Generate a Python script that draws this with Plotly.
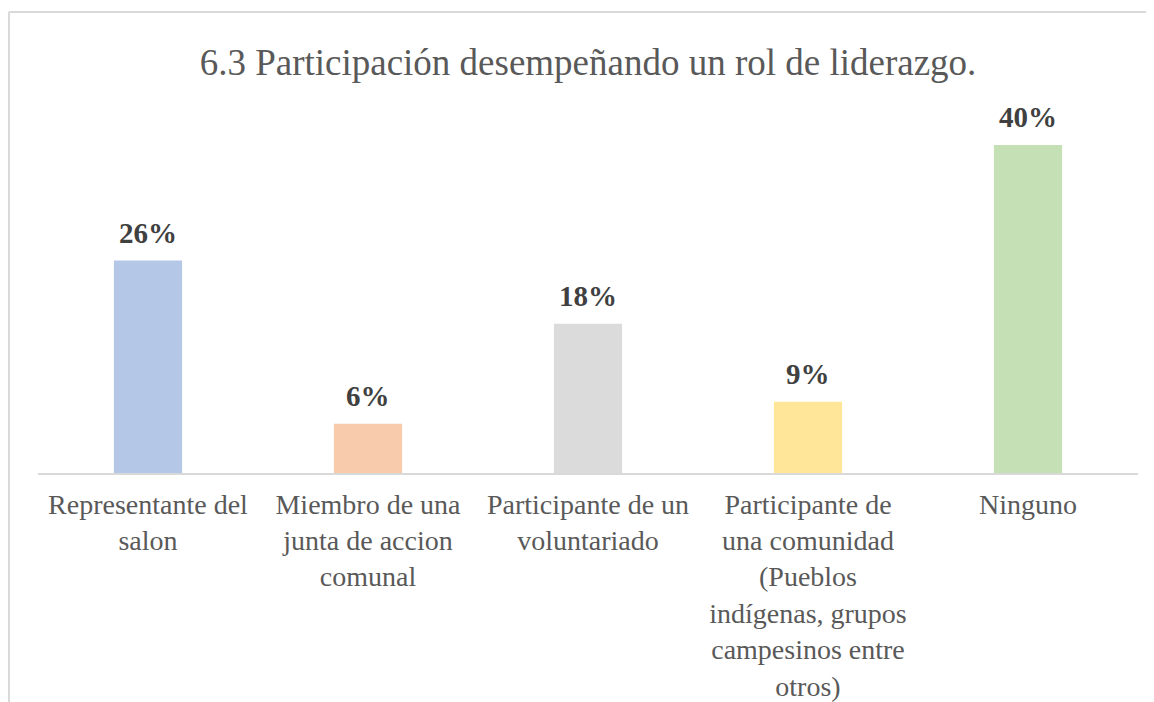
import plotly.graph_objects as go

categories = [
    "Representante del<br>salon",
    "Miembro de una<br>junta de accion<br>comunal",
    "Participante de un<br>voluntariado",
    "Participante de<br>una comunidad<br>(Pueblos<br>indígenas, grupos<br>campesinos entre<br>otros)",
    "Ninguno",
]
values = [25.9, 6.0, 18.2, 8.7, 40.0]
colors = ["#B4C7E7", "#F8CBAD", "#DBDBDB", "#FFE699", "#C5E0B4"]

FONT = "Liberation Serif"

fig = go.Figure()
fig.add_trace(go.Bar(x=categories, y=values, marker_color=colors, marker_line_width=0, width=0.31))

for cat, val in zip(categories, values):
    fig.add_annotation(
        x=cat, y=val, text=f"<b>{val:.0f}%</b>", showarrow=False,
        yanchor="bottom", yshift=10,
        font=dict(family=FONT, size=29, color="#404040"),
    )

# light grey chart frame (cropped on right and bottom)
fig.add_shape(type="line", xref="paper", yref="paper", x0=-0.0264, x1=-0.0264, y0=-1, y1=1.2493,
              line=dict(color="#D9D9D9", width=2))
fig.add_shape(type="line", xref="paper", yref="paper", x0=-0.0264, x1=1.1, y0=1.2493, y1=1.2493,
              line=dict(color="#D9D9D9", width=2))

fig.update_layout(
    width=1146, height=694,
    margin=dict(l=30, r=16, t=96, b=229),
    paper_bgcolor="white", plot_bgcolor="white",
    showlegend=False,
    title=dict(text="6.3 Participación desempeñando un rol de liderazgo.",
               x=0.5, xref="paper", xanchor="center", y=0.9222, yanchor="middle",
               font=dict(family=FONT, size=37, color="#595959")),
    font=dict(family=FONT, color="#595959"),
)
fig.update_xaxes(showline=True, linecolor="#D9D9D9", linewidth=2, ticks="", automargin=False,
                 ticklabelstandoff=5,
                 tickfont=dict(family=FONT, size=28, color="#595959"), tickangle=0)
fig.update_yaxes(range=[0, 45], visible=False, showgrid=False)

fig.write_html("out.html")
